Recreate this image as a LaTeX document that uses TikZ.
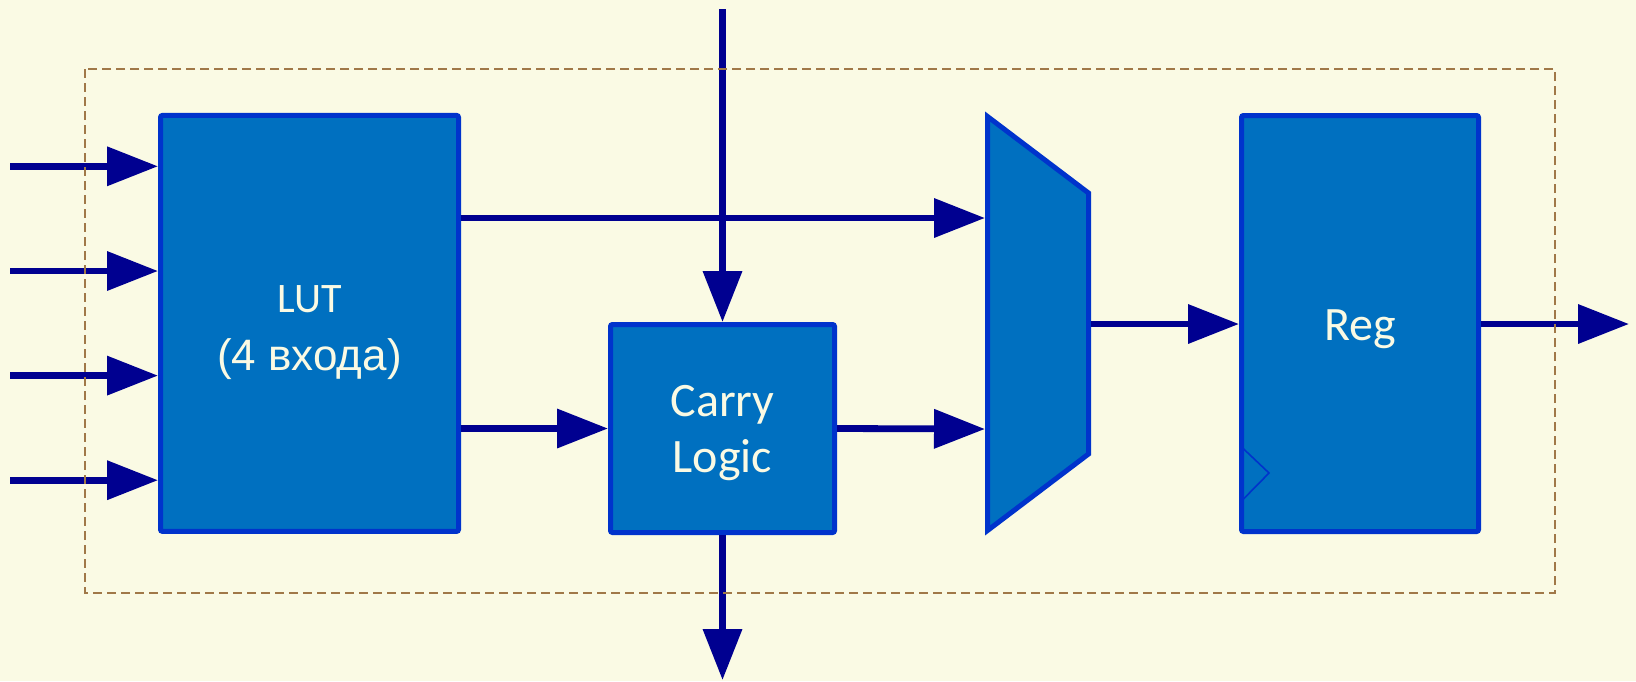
\documentclass[tikz,border=0pt]{standalone}
\usepackage{fontspec}
\setmainfont{Carlito}
\newfontfamily\lutfont{Liberation Sans}
\usetikzlibrary{arrows.meta}
\definecolor{paper}{RGB}{250,250,228}
\definecolor{blockfill}{RGB}{0,112,192}
\definecolor{blockedge}{RGB}{0,51,204}
\definecolor{wire}{RGB}{0,0,144}
\definecolor{frame}{RGB}{160,120,72}
\definecolor{label}{RGB}{250,250,228}
\begin{document}
\begin{tikzpicture}[x=0.5pt,y=-0.5pt,
  block/.style={draw=blockedge, fill=blockfill, line width=2.5pt,
    rounded corners=1pt, inner sep=0pt},
  blocktext/.style={text=label, align=center, inner sep=0pt,
    font=\fontsize{24}{28}\selectfont},
  sig/.style={draw=wire, line width=3.4pt,
    -{Triangle[length=25.5pt,width=19pt]}},
  clk/.style={draw=blockedge, line width=0.8pt},
  slice/.style={draw=frame, line width=1pt, dash pattern=on 4.6pt off 2.4pt}
]
% canvas
\fill[paper] (0,0) rectangle (1636,681);
\useasboundingbox (0,0) rectangle (1636,681);

% blocks
\node[block, minimum width=149pt, minimum height=208pt] (lut) at (309.5,323.4) {};
\node[block, minimum width=112pt, minimum height=104pt] (carry) at (722.5,428.5) {};
\node[block, minimum width=118.5pt, minimum height=208pt] (reg) at (1360,323.5) {};

% block captions
\node[blocktext, font=\fontsize{22}{29}\selectfont] (luttext) at ([yshift=-4.5pt]lut.center)
  {{\fontsize{21}{29}\selectfont LUT}\\{\lutfont (4 входа)}};
\node[blocktext] (carrytext) at ([yshift=-2.5pt]carry.center) {Carry\\Logic};
\node[blocktext] (regtext) at ([yshift=-3pt]reg.center) {Reg};

% output multiplexer
\filldraw[draw=blockedge, fill=blockfill, line width=2.5pt, line join=miter]
  (987.5,116.5) -- (1088.5,193) -- (1088.5,454) -- (987.5,530.5) -- cycle;
\coordinate (muxa) at (985,218);
\coordinate (muxb) at (985,429);
\coordinate (muxo) at (1091,324);

% clock input mark of the register
\draw[clk] (1240.5,446) -- (1269,473) -- (1240.5,502);

% LUT inputs
\coordinate (i1) at (10,166.3);
\coordinate (i2) at (10,271);
\coordinate (i3) at (10,375.6);
\coordinate (i4) at (10,480.2);
\foreach \p in {i1,i2,i3,i4} \draw[sig] (\p) -- (lut.west |- \p);

% carry chain in and out
\coordinate (cin) at (722.5,9);
\coordinate (cout) at (722.5,680);
\draw[sig] (cin) -- (carry.north);
\draw[sig] (carry.south) -- (cout);

% data paths
\draw[sig] (lut.east |- muxa) -- (muxa);
\draw[sig] (lut.east |- carry.west) -- (carry.west);
\draw[sig] (carry.east) -- (muxb);
\draw[sig] (muxo) -- (reg.west |- muxo);
\coordinate (q) at (1629,324);
\draw[sig] (reg.east |- q) -- (q);

% slice boundary
\draw[slice] (85,69) rectangle (1555,593);
\end{tikzpicture}
\end{document}
